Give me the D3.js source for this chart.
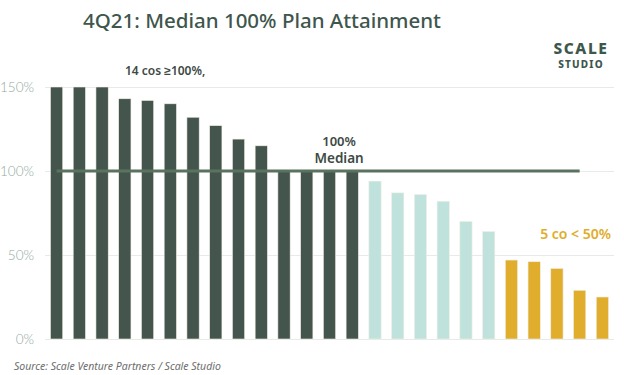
<!DOCTYPE html>
<html>
<head>
<meta charset="utf-8">
<script src="https://cdn.jsdelivr.net/npm/d3@7"></script>
<style>
  html, body { margin: 0; padding: 0; background: #fff; }
  svg { display: block; }
</style>
</head>
<body>
<div id="chart"></div>
<script>
// one bar per company, sorted by plan attainment
var companies = d3.range(1, 26).map(i => "Co " + i)
var attainment = [150, 150, 150, 143, 142, 140, 132, 127, 119, 115, 100, 100, 100, 100,
                  94, 87, 86, 82, 70, 64,
                  47, 46, 42, 29, 25]
var groups = ["above", "above", "above", "above", "above", "above", "above", "above", "above", "above", "above", "above", "above", "above",
              "mid", "mid", "mid", "mid", "mid", "mid",
              "low", "low", "low", "low", "low"]
var yTicks = [0, 50, 100, 150]
var median = 100

var groupColour = d3.scaleOrdinal()
  .domain(["above", "mid", "low"])
  .range(["#44554e", "#bfe3dc", "#e0ad2c"])

var data = companies.map((c, i) => ({ company: c, value: attainment[i], group: groups[i] }))

function drawChart() {
  var dimensions = {
    width: 624,
    height: 375,
    margin: { top: 87, right: 10, bottom: 36, left: 45 }
  }
  dimensions.boundedWidth = dimensions.width - dimensions.margin.left - dimensions.margin.right
  dimensions.boundedHeight = dimensions.height - dimensions.margin.top - dimensions.margin.bottom

  var wrapper = d3.select("#chart")
    .append("svg")
    .attr("width", dimensions.width)
    .attr("height", dimensions.height)

  var bounds = wrapper.append("g")
    .attr("transform", `translate(${dimensions.margin.left},${dimensions.margin.top})`)

  var xScale = d3.scaleBand()
    .domain(companies)
    .range([0, 569])
    .paddingInner(0.46)
    .paddingOuter(0.24)

  var yScale = d3.scaleLinear()
    .domain([0, 150])
    .range([252, 0])

  // gridlines + tick labels
  var yAxisGenerator = d3.axisLeft(yScale)
    .tickValues(yTicks)
    .tickSize(-569)
    .tickFormat(d => d + "%")

  var yAxis = bounds.append("g")
    .attr("class", "y axis")
    .call(yAxisGenerator)
  yAxis.select(".domain").remove()
  yAxis.selectAll(".tick line")
    .attr("stroke", "#e6ebe9")
    .attr("stroke-width", 1.2)
  yAxis.selectAll(".tick text")
    .attr("x", -11)
    .attr("fill", "#93aaa1")
    .style("font-family", "Lato, sans-serif")
    .style("font-weight", 300)
    .style("font-size", "13.5px")

  bounds.selectAll(".bar")
    .data(data).enter()
    .append("rect")
    .attr("class", "bar")
    .attr("x", d => xScale(d.company))
    .attr("y", d => yScale(d.value))
    .attr("width", xScale.bandwidth())
    .attr("height", d => yScale(0) - yScale(d.value))
    .attr("fill", d => groupColour(d.group))
    .attr("stroke", "#f3efe6")
    .attr("stroke-width", 0.6)

  // median line, first to 24th company
  var medianLine = d3.line()
    .x(d => xScale(d) + xScale.bandwidth() / 2)
    .y(() => yScale(median))
  bounds.append("path")
    .datum([companies[0], companies[23]])
    .attr("d", medianLine)
    .attr("stroke", "#5a735e")
    .attr("stroke-width", 3)
    .attr("fill", "none")

  // annotations
  bounds.append("text")
    .attr("x", xScale(companies[5]) + 1)
    .attr("y", yScale(150) - 12)
    .attr("text-anchor", "middle")
    .attr("fill", "#3d4a45")
    .style("font-family", "'Noto Sans', sans-serif")
    .style("font-weight", 600)
    .style("font-size", "12px")
    .text("14 cos ≥100%,")

  var medX = xScale(companies[13]) - 7
  bounds.append("text")
    .attr("x", medX)
    .attr("y", yScale(median) - 25)
    .attr("text-anchor", "middle")
    .attr("fill", "#3d4a45")
    .style("font-family", "'Noto Sans', sans-serif")
    .style("font-weight", 600)
    .style("font-size", "13px")
    .text("100%")
  bounds.append("text")
    .attr("x", medX)
    .attr("y", yScale(median) - 8)
    .attr("text-anchor", "middle")
    .attr("fill", "#3d4a45")
    .style("font-family", "'Noto Sans', sans-serif")
    .style("font-weight", 600)
    .style("font-size", "13.5px")
    .text("Median")

  bounds.append("text")
    .attr("x", 566)
    .attr("y", yScale(50) - 16)
    .attr("text-anchor", "end")
    .attr("fill", "#e0ad2c")
    .style("font-family", "'Noto Sans', sans-serif")
    .style("font-weight", 600)
    .style("font-size", "14px")
    .text("5 co < 50%")

  // title
  wrapper.append("text")
    .attr("x", 262)
    .attr("y", 28)
    .attr("text-anchor", "middle")
    .attr("fill", "#3e564c")
    .style("font-family", "'Noto Sans', sans-serif")
    .style("font-weight", 500)
    .style("font-size", "20.5px")
    .text("4Q21: Median 100% Plan Attainment")

  // logo
  wrapper.append("text")
    .attr("x", 581)
    .attr("y", 54)
    .attr("text-anchor", "middle")
    .attr("fill", "#3d574d")
    .style("font-family", "'Noto Sans', sans-serif")
    .style("font-weight", 800)
    .style("font-size", "15.5px")
    .style("letter-spacing", "1.6px")
    .text("SCALE")
  wrapper.append("text")
    .attr("x", 581)
    .attr("y", 68)
    .attr("text-anchor", "middle")
    .attr("fill", "#3d574d")
    .style("font-family", "'Noto Sans', sans-serif")
    .style("font-weight", 800)
    .style("font-size", "10px")
    .style("letter-spacing", "1.2px")
    .text("STUDIO")

  // source
  wrapper.append("text")
    .attr("x", 14)
    .attr("y", 370)
    .attr("fill", "#6e6e6e")
    .style("font-family", "'Noto Sans', sans-serif")
    .style("font-style", "italic")
    .style("font-size", "10.5px")
    .text("Source: Scale Venture Partners / Scale Studio")
}
drawChart()
</script>
</body>
</html>
